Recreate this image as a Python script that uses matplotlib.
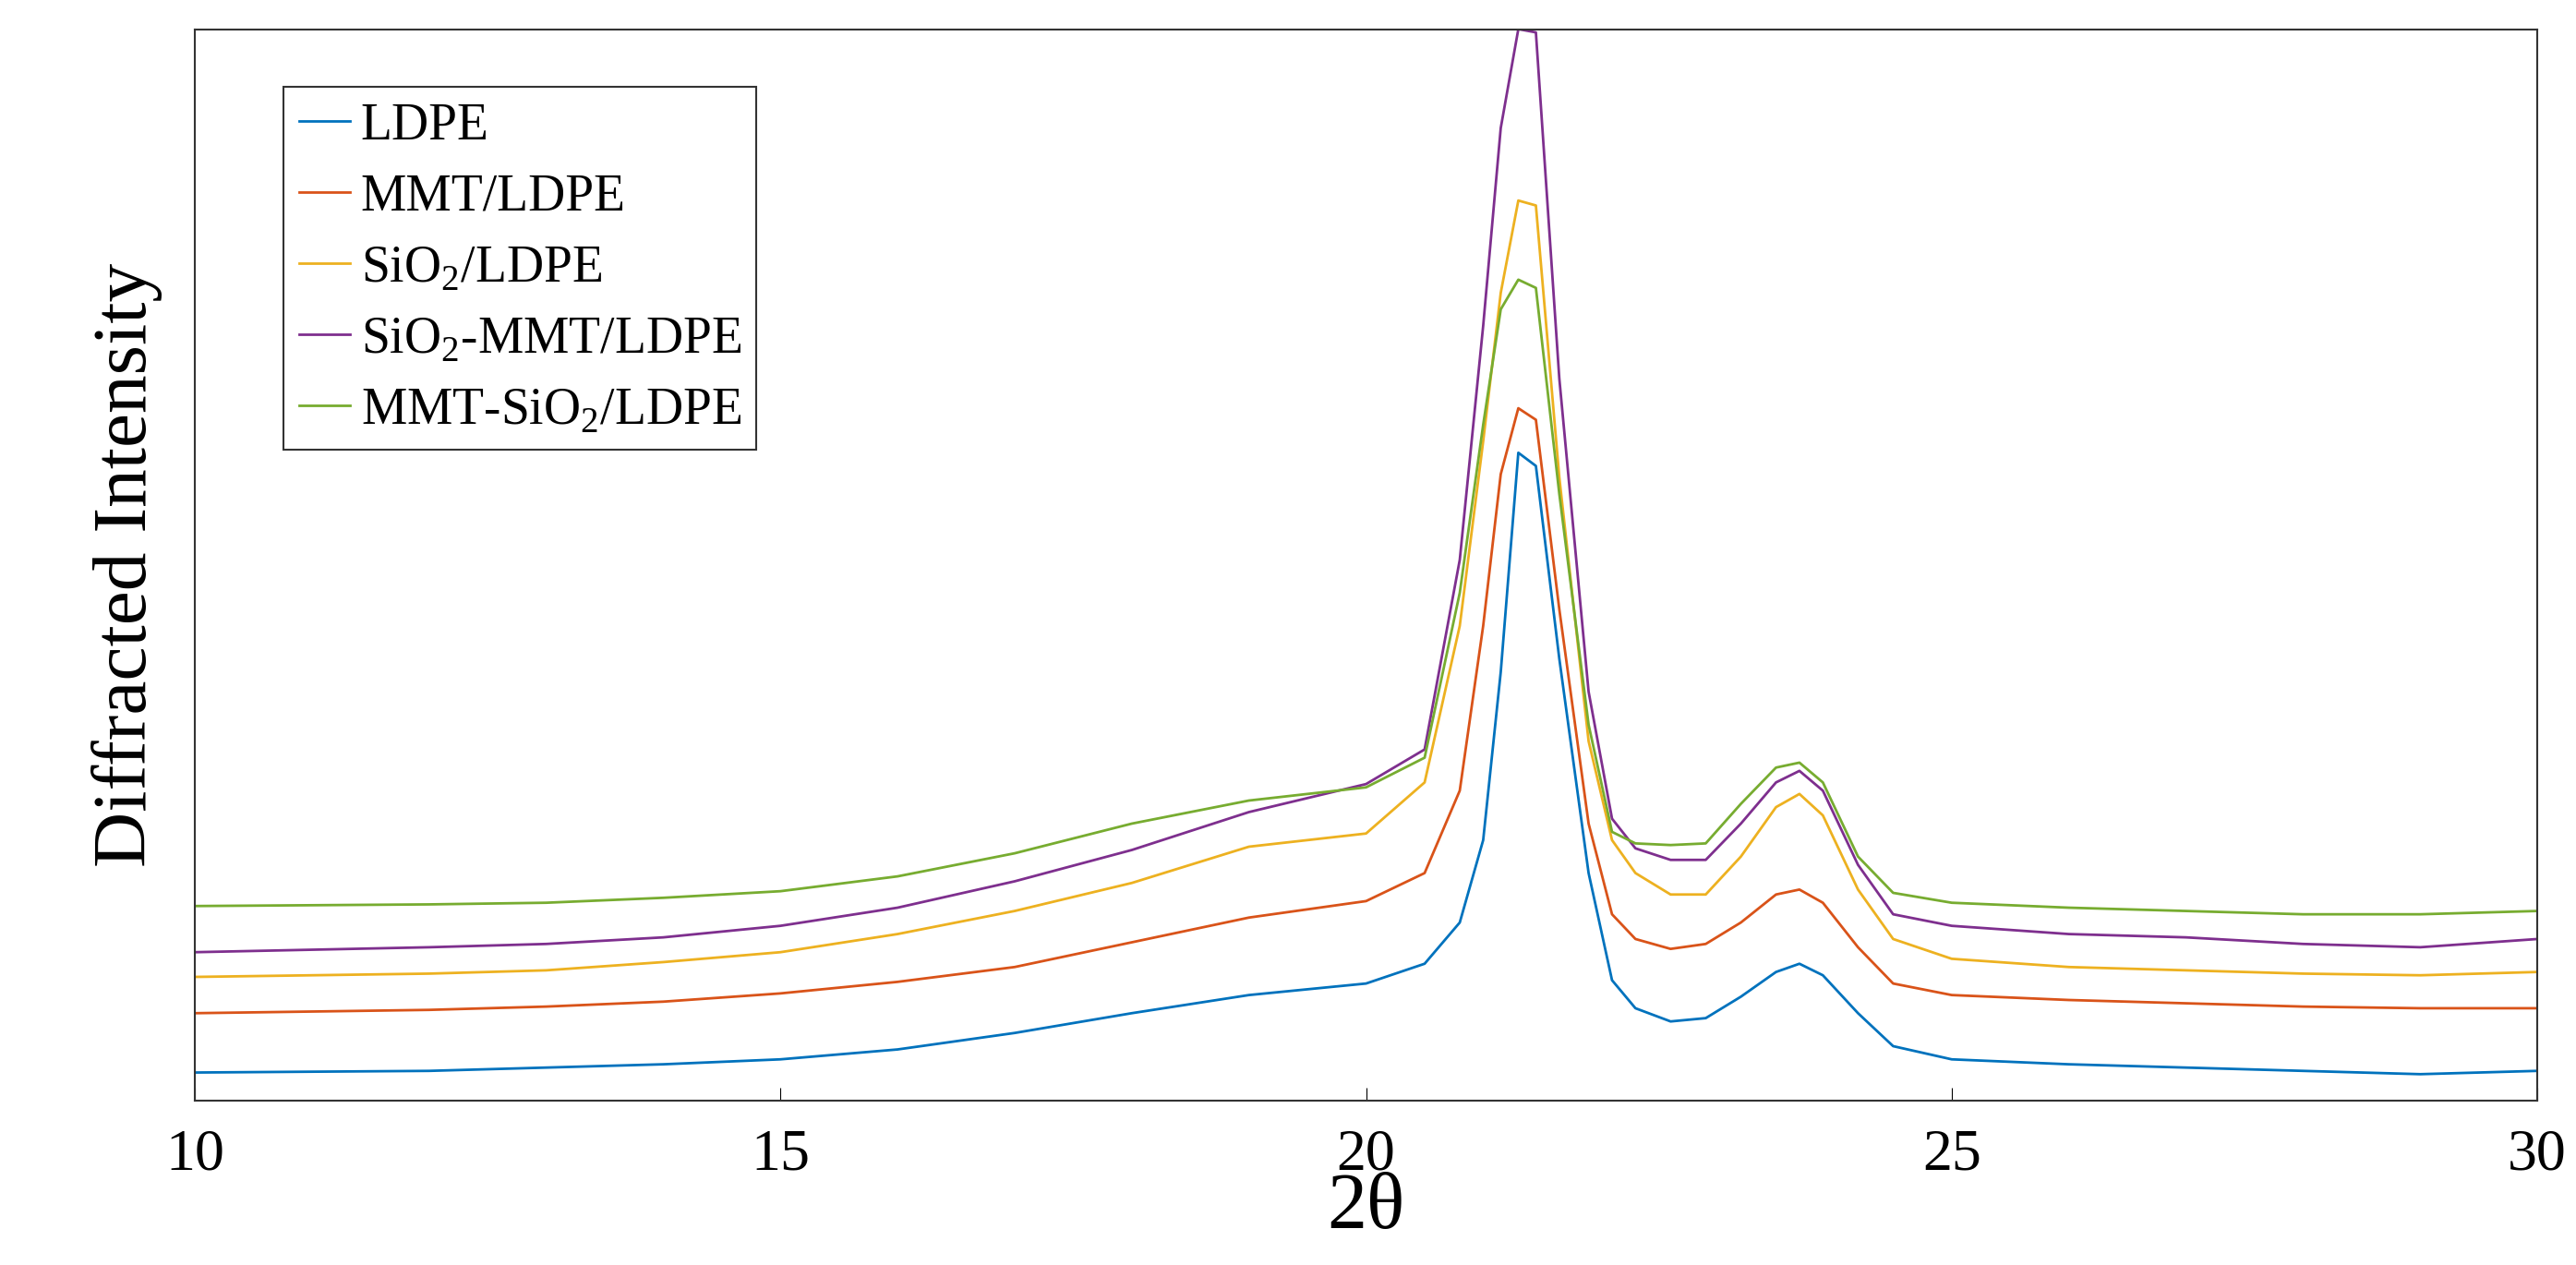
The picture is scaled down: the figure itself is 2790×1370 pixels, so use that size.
import numpy as np
from matplotlib import pyplot as plt

plt.rcParams['font.family'] = ['Liberation Serif', 'DejaVu Serif']
plt.rcParams['mathtext.fontset'] = 'custom'
plt.rcParams['mathtext.rm'] = 'Liberation Serif'

# 2theta 采样点
x = [10, 12, 13, 14, 15, 16, 17, 18, 19, 20, 20.5, 20.8, 21, 21.15, 21.3, 21.45, 21.65, 21.9,
     22.1, 22.3, 22.6, 22.9, 23.2, 23.5, 23.7, 23.9, 24.2, 24.5, 25, 26, 27, 28, 29, 30]

# 强度 (任意单位)
ldpe = [17, 18, 20, 22, 25, 31, 41, 53, 64, 71, 83, 108, 158, 260, 393, 385, 268, 138,
        73, 56, 48, 50, 63, 78, 83, 76, 53, 33, 25, 22, 20, 18, 16, 18]
mmt = [53, 55, 57, 60, 65, 72, 81, 96, 111, 121, 138, 188, 288, 380, 420, 413, 298, 168,
       113, 98, 92, 95, 108, 125, 128, 120, 93, 71, 64, 61, 59, 57, 56, 56]
sio2 = [75, 77, 79, 84, 90, 101, 115, 132, 154, 162, 193, 288, 400, 490, 546, 543, 378, 218,
        158, 138, 125, 125, 148, 178, 186, 173, 128, 98, 86, 81, 79, 77, 76, 78]
sio2_mmt = [90, 93, 95, 99, 106, 117, 133, 152, 175, 192, 213, 328, 470, 590, 650, 648, 438, 248,
            171, 153, 146, 146, 168, 193, 200, 188, 143, 113, 106, 101, 99, 95, 93, 98]
mmt_sio2 = [118, 119, 120, 123, 127, 136, 150, 168, 182, 190, 208, 308, 410, 480, 498, 493, 368, 228,
            163, 156, 155, 156, 180, 202, 205, 193, 148, 126, 120, 117, 115, 113, 113, 115]

labels = ['LDPE', 'MMT/LDPE', r'SiO$_2$/LDPE', r'SiO$_2$-MMT/LDPE', r'MMT-SiO$_2$/LDPE']
colors = ['#0072BD', '#D95319', '#EDB120', '#7E2F8E', '#77AC30']

fig = plt.figure(figsize=(27.9, 13.7), dpi=100)
ax = fig.add_axes([0.0756, 0.130, 0.9094, 0.847])
for ys, lab, c in zip([ldpe, mmt, sio2, sio2_mmt, mmt_sio2], labels, colors):
    ax.plot(x, ys, color=c, lw=2, label=lab)

ax.set_xlim(10, 30)
ax.set_ylim(0, 650)
ax.set_xticks([10, 15, 20, 25, 30])
ax.set_yticks([])
ax.tick_params(axis='x', labelsize=46, direction='in', length=10, pad=22)
ax.set_xlabel('2θ', fontsize=62, labelpad=-8)
ax.set_ylabel('Diffracted Intensity', fontsize=60, labelpad=25)
for s in ax.spines.values():
    s.set_linewidth(1.5)
    s.set_color('#333333')
leg = ax.legend(loc='upper left', bbox_to_anchor=(0.027, 0.97), fontsize=40, frameon=True,
                fancybox=False, edgecolor='black', handlelength=1.0, labelspacing=0.45,
                borderpad=0.3, handletextpad=0.2)
leg.get_frame().set_linewidth(1.5)
fig.savefig('out.png')
